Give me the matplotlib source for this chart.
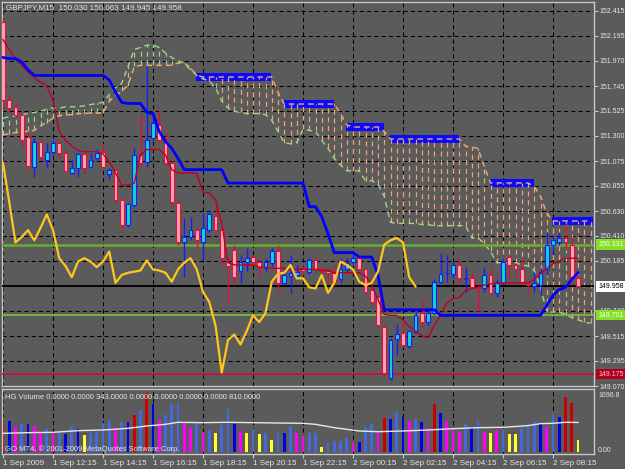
#GBPJPY M15 chart with Ichimoku and HG Volume

import numpy as np
import matplotlib.pyplot as plt
import matplotlib.transforms as mtransforms
from matplotlib.patches import Rectangle

plt.rcParams['font.family'] = ['Liberation Sans', 'DejaVu Sans']

# Candles, one per 15 minute bar (bar 0 = 1 Sep 10:15)
opens = [152.32, 151.62, 151.56, 151.49, 151.29, 151.02, 151.25, 151.09, 151.16, 151.24,
         151.15, 150.97, 151.01, 151.14, 151.02, 151.10, 151.16, 150.96, 151.00, 150.73,
         150.51, 150.68, 151.13, 151.07, 151.28, 151.40, 151.26, 151.06, 150.70, 150.35,
         150.40, 150.46, 150.35, 150.46, 150.59, 150.46, 150.18, 150.28, 150.10, 150.18,
         150.22, 150.18, 150.12, 150.17, 150.27, 149.99, 150.05, 150.06, 150.11, 150.09,
         150.19, 150.11, 150.10, 150.08, 150.02, 150.11, 150.18, 150.21, 150.11, 149.93,
         149.86, 149.60, 149.14, 149.49, 149.54, 149.43, 149.55, 149.72, 149.64, 149.72,
         150.00, 150.08, 150.07, 150.15, 150.02, 150.03, 149.95, 149.94, 150.06, 149.90,
         149.99, 150.22, 150.15, 150.11, 149.98, 149.96, 149.97, 150.11, 150.33, 150.35,
         150.39, 150.33, 150.030]
highs = [152.35, 151.66, 151.59, 151.51, 151.33, 151.28, 151.27, 151.24, 151.26, 151.26,
         151.18, 151.09, 151.15, 151.16, 151.15, 151.18, 151.24, 151.01, 151.01, 150.75,
         150.70, 151.19, 151.49, 151.92, 151.46, 151.53, 151.33, 151.09, 150.73, 150.57,
         150.58, 150.49, 150.61, 150.64, 150.68, 150.48, 150.21, 150.33, 150.24, 150.30,
         150.24, 150.21, 150.21, 150.30, 150.33, 150.12, 150.24, 150.15, 150.14, 150.21,
         150.22, 150.14, 150.12, 150.15, 150.21, 150.21, 150.24, 150.23, 150.12, 149.94,
         149.87, 149.61, 149.50, 149.62, 149.63, 149.57, 149.74, 149.84, 149.75, 150.02,
         150.26, 150.24, 150.18, 150.21, 150.13, 150.09, 149.97, 150.13, 150.12, 150.02,
         150.21, 150.24, 150.17, 150.21, 150.00, 150.09, 150.12, 150.44, 150.42, 150.44,
         150.52, 150.40, 150.063]
lows = [151.53, 151.51, 151.46, 151.20, 151.00, 150.93, 151.09, 151.01, 151.13, 151.09,
        150.98, 150.96, 150.93, 150.97, 151.01, 151.09, 151.01, 150.92, 150.71, 150.44,
        150.49, 150.67, 151.04, 151.02, 151.26, 151.25, 151.04, 150.67, 150.33, 150.04,
        150.37, 150.28, 150.19, 150.44, 150.44, 150.15, 149.81, 149.97, 149.99, 150.10,
        150.15, 150.04, 150.10, 150.14, 149.90, 149.97, 149.90, 150.03, 150.06, 150.07,
        150.09, 150.08, 149.99, 149.97, 149.99, 150.09, 150.16, 150.09, 149.89, 149.80,
        149.60, 149.16, 149.12, 149.35, 149.42, 149.41, 149.54, 149.60, 149.61, 149.70,
        149.99, 150.00, 150.03, 149.97, 149.91, 149.94, 149.72, 149.91, 149.89, 149.86,
        149.98, 150.02, 150.03, 149.99, 149.90, 149.91, 149.88, 150.06, 150.26, 150.33,
        150.28, 149.97, 149.945]
closes = [151.62, 151.55, 151.49, 151.26, 151.03, 151.25, 151.11, 151.16, 151.24, 151.15,
          150.99, 151.01, 151.14, 151.01, 151.09, 151.15, 151.02, 151.00, 150.73, 150.51,
          150.69, 151.13, 151.06, 151.26, 151.42, 151.26, 151.06, 150.71, 150.35, 150.40,
          150.46, 150.37, 150.48, 150.60, 150.46, 150.21, 150.14, 150.04, 150.18, 150.21,
          150.18, 150.13, 150.18, 150.27, 149.99, 150.06, 150.08, 150.09, 150.10, 150.19,
          150.11, 150.10, 150.08, 150.00, 150.11, 150.17, 150.21, 150.11, 149.91, 149.82,
          149.61, 149.19, 149.48, 149.53, 149.44, 149.56, 149.70, 149.64, 149.72, 150.00,
          150.07, 150.08, 150.15, 150.03, 150.03, 149.95, 149.94, 150.06, 149.90, 149.99,
          150.18, 150.15, 150.11, 150.00, 149.97, 149.99, 150.09, 150.33, 150.37, 150.39,
          150.35, 150.04, 149.958]

# Ichimoku lines
tenkan = [152.16, 152.07, 151.99, 151.93, 151.87, 151.82, 151.78, 151.75, 151.62, 151.34,
          151.26, 151.21, 151.17, 151.16, 151.16, 151.16, 151.14, 151.07, 150.97, 150.86,
          150.86, 150.88, 151.13, 151.18, 151.18, 151.18, 151.13, 151.00, 150.97, 150.97,
          150.97, 150.97, 150.80, 150.79, 150.73, 150.52, 150.17, 150.15, 150.15, 150.15,
          150.15, 150.13, 150.13, 150.12, 150.12, 150.12, 150.11, 150.11, 150.11, 150.11,
          150.11, 150.10, 150.10, 150.08, 150.08, 150.08, 150.08, 150.08, 150.05, 149.97,
          149.84, 149.71, 149.70, 149.70, 149.66, 149.60, 149.56, 149.52, 149.50, 149.61,
          149.70, 149.81, 149.85, 149.86, 149.92, 149.94, 149.95, 149.97, 149.98, 149.99,
          149.99, 149.99, 149.99, 149.99, 149.99, 150.02, 150.07, 150.12, 150.16, 150.18,
          150.21, 150.21, 150.21]
kijun = [152.00, 151.99, 151.99, 151.96, 151.89, 151.84, 151.84, 151.84, 151.84, 151.84,
         151.84, 151.84, 151.84, 151.84, 151.84, 151.84, 151.84, 151.80, 151.69, 151.60,
         151.59, 151.59, 151.59, 151.51, 151.50, 151.34, 151.25, 151.19, 151.10, 151.00,
         151.00, 151.00, 151.00, 151.00, 151.00, 151.00, 150.88, 150.88, 150.88, 150.88,
         150.88, 150.88, 150.88, 150.88, 150.88, 150.88, 150.88, 150.88, 150.88, 150.67,
         150.67, 150.58, 150.43, 150.26, 150.26, 150.26, 150.26, 150.22, 150.22, 150.22,
         150.06, 149.75, 149.75, 149.75, 149.75, 149.75, 149.75, 149.75, 149.75, 149.75,
         149.70, 149.70, 149.70, 149.70, 149.70, 149.70, 149.70, 149.70, 149.70, 149.70,
         149.70, 149.70, 149.70, 149.70, 149.70, 149.70, 149.70, 149.79, 149.88, 149.93,
         149.95, 150.02, 150.08]
chikou_shift = 26

# Kumo, bars 0..94
span_a = [151.46, 151.47, 151.48, 151.49, 151.50, 151.51, 151.52, 151.54, 151.55, 151.55,
          151.56, 151.56, 151.56, 151.57, 151.58, 151.59, 151.60, 151.67, 151.73, 151.77,
          151.92, 152.07, 152.09, 152.11, 152.11, 152.09, 152.04, 152.00, 151.97, 151.95,
          151.89, 151.84, 151.81, 151.79, 151.73, 151.61, 151.55, 151.52, 151.51, 151.50,
          151.50, 151.50, 151.49, 151.44, 151.34, 151.24, 151.23, 151.24, 151.36, 151.35,
          151.34, 151.26, 151.19, 151.10, 151.04, 150.99, 150.99, 150.99, 150.90, 150.90,
          150.87, 150.76, 150.53, 150.52, 150.52, 150.52, 150.52, 150.51, 150.51, 150.50,
          150.50, 150.50, 150.50, 150.50, 150.50, 150.39, 150.39, 150.34, 150.27, 150.17,
          150.17, 150.17, 150.17, 150.15, 150.14, 150.10, 149.95, 149.73, 149.73, 149.73,
          149.71, 149.68, 149.66, 149.64, 149.63]
span_b = [151.31, 151.32, 151.33, 151.34, 151.34, 151.35, 151.39, 151.42, 151.46, 151.48,
          151.49, 151.49, 151.50, 151.50, 151.505, 151.505, 151.505, 151.61, 151.66, 151.70,
          151.75, 151.92, 151.93, 151.93, 151.93, 151.93, 151.93, 151.93, 151.95, 151.95,
          151.91, 151.84, 151.826, 151.826, 151.826, 151.826, 151.826, 151.826, 151.826, 151.826,
          151.826, 151.826, 151.826, 151.826, 151.69, 151.585, 151.585, 151.585, 151.585, 151.585,
          151.585, 151.585, 151.585, 151.585, 151.50, 151.40, 151.38, 151.38, 151.38, 151.38,
          151.38, 151.34, 151.273, 151.273, 151.273, 151.273, 151.273, 151.273, 151.273, 151.273,
          151.273, 151.273, 151.273, 151.273, 151.21, 151.20, 151.19, 151.03, 150.881, 150.881,
          150.881, 150.881, 150.881, 150.881, 150.881, 150.85, 150.76, 150.61, 150.542, 150.542,
          150.542, 150.542, 150.542, 150.542, 150.542]

# flat kumo edges highlighted in blue
flat_start = [31, 45, 55, 62, 78, 88]
flat_end = [43, 53, 61, 73, 85, 94.5]
flat_level = [151.826, 151.585, 151.380, 151.273, 150.881, 150.542]

# horizontal levels
level_values = [150.331, 149.958, 149.701, 149.175]

# HG Volume
volume = [922, 902, 708, 805, 795, 757, 553, 650, 534, 553,
          514, 747, 650, 485, 534, 582, 825, 902, 650, 873,
          873, 1067, 1213, 1697, 1387, 922, 1067, 1387, 1426, 825,
          698, 844, 582, 631, 553, 776, 1232, 795, 611, 553,
          650, 514, 534, 343, 601, 534, 747, 534, 456, 553,
          534, 146, 243, 310, 310, 388, 291, 291, 728, 805,
          601, 970, 941, 1145, 1019, 892, 941, 873, 698, 1387,
          1116, 902, 679, 582, 805, 728, 892, 582, 534, 631,
          650, 514, 514, 679, 805, 873, 825, 708, 1096, 1019,
          1581, 1407, 343]
vol_type = ['r', 'B', 'm', 'b', 'B', 'm', 'm', 'b', 'm', 'b',
            'B', 'b', 'B', 'y', 'b', 'b', 'b', 'b', 'm', 'b',
            'B', 'r', 'b', 'r', 'B', 'm', 'b', 'b', 'b', 'm',
            'm', 'b', 'm', 'b', 'y', 'b', 'b', 'B', 'm', 'y',
            'b', 'y', 'b', 'y', 'b', 'B', 'b', 'm', 'm', 'b',
            'b', 'y', 'b', 'b', 'b', 'b', 'm', 'B', 'b', 'b',
            'm', 'r', 'B', 'b', 'B', 'm', 'b', 'B', 'm', 'r',
            'B', 'm', 'm', 'm', 'b', 'B', 'b', 'm', 'y', 'm',
            'b', 'y', 'y', 'b', 'b', 'b', 'B', 'm', 'b', 'B',
            'r', 'r', 'y']
vol_ma_bar = [0, 4, 8, 12, 16, 20, 23, 26, 28, 32, 36, 40, 44, 48, 50, 53, 55, 57,
              60, 64, 68, 72, 76, 80, 84, 86, 88, 90, 92]
vol_ma = [534, 553, 563, 611, 631, 679, 747, 795, 854, 844, 854, 844, 834, 825, 795, 698,
          650, 601, 582, 601, 631, 669, 698, 708, 757, 815, 825, 854, 850]

# axis labels
price_ticks = [152.415, 152.195, 151.970, 151.745, 151.525, 151.300, 151.075, 150.855,
               150.630, 150.410, 150.185, 149.740, 149.515, 149.295, 149.070]
time_bars = [0, 8, 16, 24, 32, 40, 48, 56, 64, 72, 80, 88]
time_labels = ['1 Sep 2009', '1 Sep 12:15', '1 Sep 14:15', '1 Sep 16:15', '1 Sep 18:15',
               '1 Sep 20:15', '1 Sep 22:15', '2 Sep 00:15', '2 Sep 02:15', '2 Sep 04:15',
               '2 Sep 06:15', '2 Sep 08:15']

bg = '#5b5b5b'
frame = '#c8c8c8'
txt = '#e6e6e6'

W, H = 625, 469
fig = plt.figure(figsize=(6.25, 4.69), dpi=100, facecolor=bg)
ax = fig.add_axes([2/W, 1-386/H, 592/W, 384/H], facecolor=bg)
axv = fig.add_axes([2/W, 1-454/H, 592/W, 65/H], facecolor=bg)

o = np.array(opens); h = np.array(highs); l = np.array(lows); c = np.array(closes)
x = np.arange(len(c))
xk = np.arange(len(span_a))

for a in (ax, axv):
    a.set_xlim(-0.16, 94.56)
    for s in a.spines.values():
        s.set_color(frame)
        s.set_linewidth(1)
    for g in time_bars:
        a.axvline(g, color='black', lw=0.75, ls=(0, (4, 3)), zorder=0.5)

ax.set_ylim(149.07, 152.495)
for t in price_ticks + [149.96]:
    ax.axhline(t, color='black', lw=0.75, ls=(0, (4, 3)), zorder=0.5)

# kumo
sa = np.array(span_a); sb = np.array(span_b)
for s0, s1, lv in zip(flat_start, flat_end, flat_level):
    ax.add_patch(Rectangle((s0 - 0.1, lv - 0.033), s1 - s0, 0.066, fc='#0a0aff', ec='none', zorder=1.5))
hatch_col = np.where(sa >= sb, '#9ccf88', '#f2a272')
ax.vlines(xk, np.minimum(sa, sb), np.maximum(sa, sb), colors=hatch_col, lw=0.9, ls=(0, (4, 3)), zorder=2)
ax.plot(xk, sa, color='#9ad98a', lw=1, ls=(0, (4, 3)), zorder=2.2)
ax.plot(xk, sb, color='#f6a874', lw=1, ls=(0, (4, 3)), zorder=2.2)

# levels
ax.axhline(level_values[0], color='#6cae2c', lw=1.8, zorder=3)
ax.axhline(level_values[1], color='black', lw=1.3, zorder=3)
ax.axhline(level_values[2], color='#7cc23c', lw=1.2, zorder=3)
ax.axhline(level_values[3], color='#c8143c', lw=1.4, zorder=3)

# candles
up = c >= o
ax.vlines(x, l, h, colors=np.where(up, '#1a1aff', '#d8103a'), lw=1, zorder=4)
ax.bar(x, np.abs(c - o), bottom=np.minimum(o, c), width=0.62,
       color=np.where(up, '#12d6cc', '#ffa6b4'), edgecolor=np.where(up, '#1a1aff', '#e0103c'),
       lw=0.8, zorder=5)

# ichimoku lines
ax.plot(x, tenkan, color='#c00020', lw=1, zorder=6)
ax.plot(x, kijun, color='#0000ff', lw=2, zorder=6)
ax.plot(x[:len(c) - chikou_shift], c[chikou_shift:], color='#ffc61e', lw=1.6, zorder=6)

# price axis
ax.yaxis.tick_right()
ax.set_yticks(price_ticks)
ax.set_yticklabels(['%.3f' % t for t in price_ticks])
ax.tick_params(axis='y', colors=frame, labelcolor=txt, labelsize=5.0, length=3, pad=1)
ax.set_xticks([])

trans = mtransforms.blended_transform_factory(ax.transAxes, ax.transData)
box_style = [('#86e024', 'white'), ('white', 'black'), ('#86e024', 'white'), ('#b00020', '#ffc0c8')]
for val, (fc, tc) in zip(level_values, box_style):
    ax.text(1.007, val, '%.3f' % val, transform=trans, ha='left', va='center', fontsize=5.0,
            color=tc, bbox=dict(fc=fc, ec='none', pad=1.2), zorder=10, clip_on=False)

fig.text(6/W, 1-8/H, 'GBPJPY,M15  150.030 150.063 149.945 149.958', color=txt,
         fontsize=5.8, va='center', ha='left')

# volume window
vol_colors = {'b': '#4169e1', 'B': '#0000ee', 'm': '#ff00ff', 'y': '#ffff33', 'r': '#c80000'}
axv.bar(x, volume, width=0.42, color=[vol_colors[t] for t in vol_type], zorder=2)
axv.plot(vol_ma_bar, vol_ma, color='#e6e6e6', lw=1, zorder=3)
axv.set_ylim(-67, 1822)
axv.set_yticks([])
axv.set_xticks(time_bars)
axv.set_xticklabels(time_labels, ha='left')
axv.tick_params(axis='x', colors=frame, labelcolor=txt, labelsize=5.8, length=3, pad=1)

fig.text(5/W, 1-397/H, 'HG Volume 0.0000 0.0000 343.0000 0.0000 0.0000 0.0000 0.0000 810.0000',
         color=txt, fontsize=5.5, va='center', ha='left')
fig.text(5/W, 1-449/H, 'GO MT4, \u00a9 2001-2009 MetaQuotes Software Corp.',
         color=txt, fontsize=5.5, va='center', ha='left')
fig.text(598/W, 1-395/H, '1696.8', color=txt, fontsize=5.0, va='center', ha='left')
fig.text(598/W, 1-450/H, '0.00', color=txt, fontsize=5.0, va='center', ha='left')

plt.savefig('out.png', dpi=100, facecolor=bg)
